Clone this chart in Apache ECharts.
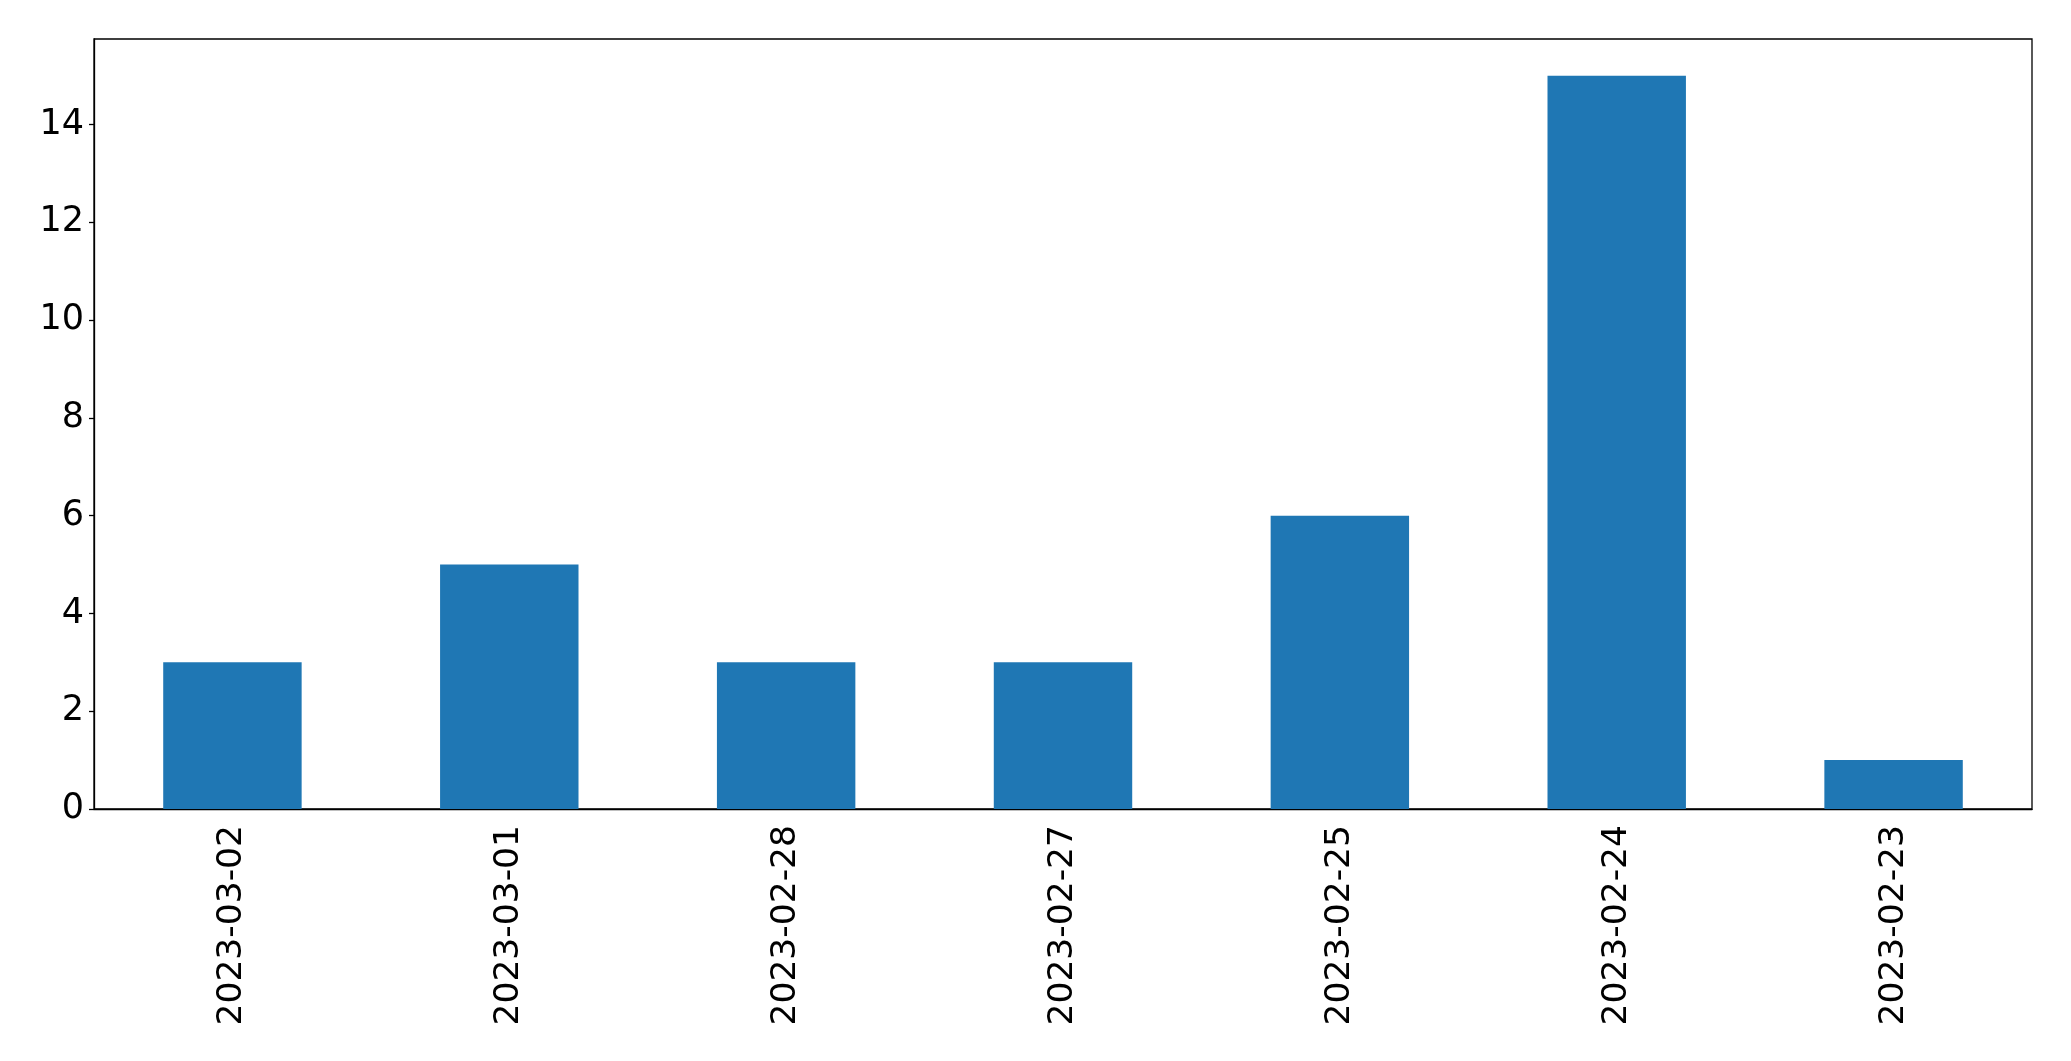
<!DOCTYPE html>
<html>
<head>
<meta charset="utf-8">
<script src="https://cdn.jsdelivr.net/npm/echarts@6/dist/echarts.min.js"></script>
<style>
html,body{margin:0;padding:0;background:#fff;}
#chart{width:2071px;height:1061px;}
</style>
</head>
<body>
<div id="chart"></div>
<script>
const categories = ['2023-03-02','2023-03-01','2023-02-28','2023-02-27','2023-02-25','2023-02-24','2023-02-23'];
const counts = [3, 5, 3, 3, 6, 15, 1];
const yTicks = [0, 2, 4, 6, 8, 10, 12, 14];

const chart = echarts.init(document.getElementById('chart'));
const font = 'DejaVu Sans';
chart.setOption({
  animation: false,
  backgroundColor: '#fff',
  grid: {
    left: 94, right: 39, top: 39, bottom: 252,
    show: true, borderColor: '#000', borderWidth: 1.3, containLabel: false
  },
  xAxis: {
    type: 'category',
    data: categories,
    axisLine: { lineStyle: { color: '#000', width: 1.3 } },
    axisTick: { alignWithLabel: true, length: 6, lineStyle: { color: '#000', width: 1.3 } },
    axisLabel: { rotate: 90, fontFamily: font, fontSize: 34.5, color: '#000', margin: 16 },
    splitLine: { show: false }
  },
  yAxis: {
    type: 'value',
    min: 0, max: 15.75, interval: 2,
    axisLine: { show: true, lineStyle: { color: '#000', width: 1.3 } },
    axisTick: { show: true, length: 5, customValues: yTicks, lineStyle: { color: '#000', width: 1.3 } },
    axisLabel: { fontFamily: font, fontSize: 35, color: '#000', margin: 10, customValues: yTicks },
    splitLine: { show: false }
  },
  series: [{
    type: 'bar',
    data: counts,
    barWidth: '50%',
    itemStyle: { color: '#1f77b4' }
  }]
});
</script>
</body>
</html>
